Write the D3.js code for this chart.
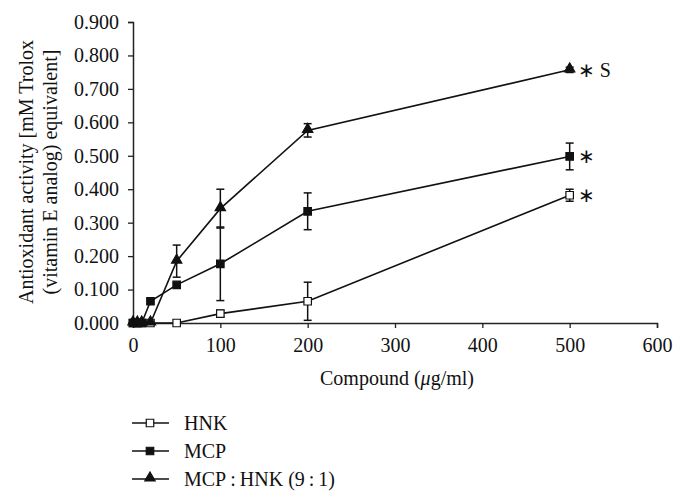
<!DOCTYPE html>
<html><head><meta charset="utf-8">
<script src="https://cdn.jsdelivr.net/npm/d3@7"></script>
<style>body{margin:0;background:#fff}svg{display:block}text{font-family:"Liberation Serif","Times New Roman",serif;fill:#111}</style>
</head><body><svg id="c" width="686" height="503"></svg>
<script>
const doses = [0, 5, 10, 20, 50, 100, 200, 500];
const hnk = [0, 0, 0, 0, 0, 0.028, 0.065, 0.382];
const hnkErr = [0, 0, 0, 0, 0, 0.01, 0.057, 0.018];
const mcp = [0, 0, 0, 0.065, 0.114, 0.177, 0.334, 0.498];
const mcpErr = [0, 0, 0, 0, 0, 0.11, 0.055, 0.04];
const mix = [0, 0, 0, 0, 0.185, 0.342, 0.576, 0.757];
const mixErr = [0, 0, 0, 0, 0.048, 0.058, 0.02, 0.008];
const seriesNames = ["HNK", "MCP", "MCP\u2009:\u2009HNK (9\u2009:\u20091)"];
const xTicks = [0, 100, 200, 300, 400, 500, 600];
const yTicks = [0, 0.1, 0.2, 0.3, 0.4, 0.5, 0.6, 0.7, 0.8, 0.9];
const annotations = ["\u2217", "\u2217", "\u2217 S"];

const svg = d3.select("#c");
const x = d3.scaleLinear().domain([0, 600]).range([133, 657]);
const y = d3.scaleLinear().domain([0, 0.9]).range([323, 22]);

svg.append("g").attr("transform", "translate(0,323)")
  .call(d3.axisBottom(x).tickValues(xTicks).tickSizeOuter(0).tickSize(5).tickPadding(10).tickFormat(d3.format("d")))
  .call(g => { g.select(".domain").attr("stroke", "#222").attr("stroke-width", 1.5);
    g.selectAll("line").attr("stroke", "#222").attr("stroke-width", 1.3);
    g.selectAll("text").attr("font-size", 20).attr("fill", "#111"); });
svg.append("g").attr("transform", "translate(133,0)")
  .call(d3.axisLeft(y).tickValues(yTicks).tickSizeOuter(0).tickSize(5).tickPadding(9).tickFormat(d3.format(".3f")))
  .call(g => { g.select(".domain").attr("stroke", "#222").attr("stroke-width", 1.5);
    g.selectAll("line").attr("stroke", "#222").attr("stroke-width", 1.3);
    g.selectAll("text").attr("font-size", 20).attr("fill", "#111"); });

const xt = svg.append("text").attr("x", x(300) + 2).attr("y", 385).attr("text-anchor", "middle").attr("font-size", 20);
xt.append("tspan").text("Compound (");
xt.append("tspan").attr("font-style", "italic").text("\u03bc");
xt.append("tspan").text("g/ml)");
const yt = svg.append("text").attr("transform", "translate(0,172) rotate(-90)").attr("text-anchor", "middle").attr("font-size", 20);
yt.append("tspan").attr("x", 0).attr("y", 33).text("Antioxidant activity [mM Trolox");
yt.append("tspan").attr("x", 0).attr("y", 57).text("(vitamin E analog) equivalent]");

const data = [
  {vals: hnk, err: hnkErr, fill: "#fff", shape: "sq"},
  {vals: mcp, err: mcpErr, fill: "#111", shape: "sq"},
  {vals: mix, err: mixErr, fill: "#111", shape: "tri"}
];
const line = d3.line().x(d => x(d[0])).y(d => y(d[1]));
const sqSym = d3.symbol(d3.symbolSquare, 56);
const triSym = d3.symbol(d3.symbolTriangle, 46);

data.forEach(s => {
  svg.append("path").datum(doses.map((d, i) => [d, s.vals[i]]))
    .attr("d", line).attr("fill", "none").attr("stroke", "#111").attr("stroke-width", 1.6);
});
data.forEach(s => {
  const g = svg.append("g").attr("stroke", "#111").attr("stroke-width", 1.5);
  doses.forEach((d, i) => {
    if (!s.err[i]) return;
    const cx = x(d), t = y(s.vals[i] + s.err[i]), b = y(s.vals[i] - s.err[i]);
    g.append("line").attr("x1", cx).attr("x2", cx).attr("y1", t).attr("y2", b);
    g.append("line").attr("x1", cx - 4).attr("x2", cx + 4).attr("y1", t).attr("y2", t);
    g.append("line").attr("x1", cx - 4).attr("x2", cx + 4).attr("y1", b).attr("y2", b);
  });
});
data.forEach(s => {
  svg.append("g").selectAll("path").data(doses.map((d, i) => [d, s.vals[i]])).join("path")
    .attr("transform", d => `translate(${x(d[0])},${y(d[1]) + (s.shape === "tri" ? -1 : 0)})`)
    .attr("d", s.shape === "tri" ? triSym : sqSym)
    .attr("fill", s.fill).attr("stroke", "#111").attr("stroke-width", 1.2);
});
data.forEach((s, k) => {
  const last = s.vals.length - 1;
  svg.append("text").attr("x", x(doses[last]) + 8).attr("y", y(s.vals[last]) + 7)
    .attr("font-size", 20).text(annotations[k]);
});

const legY = [423, 451, 479];
data.forEach((s, k) => {
  svg.append("line").attr("x1", 132).attr("x2", 169).attr("y1", legY[k]).attr("y2", legY[k])
    .attr("stroke", "#111").attr("stroke-width", 1.6);
  svg.append("path").attr("transform", `translate(150,${legY[k] + (s.shape === "tri" ? -1 : 0)})`)
    .attr("d", s.shape === "tri" ? triSym : sqSym).attr("fill", s.fill).attr("stroke", "#111").attr("stroke-width", 1.2);
  svg.append("text").attr("x", 184).attr("y", legY[k] + 7).attr("font-size", 20).text(seriesNames[k]);
});
</script></body></html>
